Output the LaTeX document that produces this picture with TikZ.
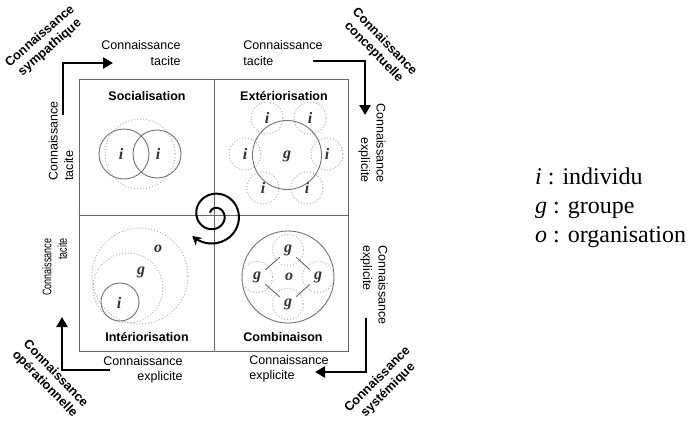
\documentclass[tikz,border=0pt]{standalone}
\usepackage{fontspec}
\setmainfont{Liberation Serif}
\newfontfamily\arial{Liberation Sans}
\usetikzlibrary{arrows.meta}
\tikzset{
  lbl/.style={font=\arial\fontsize{12.5}{15.5}\selectfont, inner sep=0pt},
  ttl/.style={font=\arial\bfseries\fontsize{12.5}{15}\selectfont, inner sep=0pt},
  diag/.style={font=\arial\bfseries\fontsize{12.8}{15}\selectfont, inner sep=0pt, align=center},
  sym/.style={font=\bfseries\itshape\fontsize{16}{16}\selectfont, inner sep=1.5pt, text=black!80},
  solidc/.style={circle, draw=black!55, line width=0.9pt, inner sep=0pt},
  dotc/.style={circle, draw=black!30, dotted, line width=1pt, inner sep=0pt},
  framec/.style={draw=black!60, line width=0.9pt},
  bigarrow/.style={line width=2.6pt, -{Triangle[length=10pt,width=11pt]}},
}
\begin{document}
\begin{tikzpicture}[x=1pt,y=-1pt]
\useasboundingbox (0,0) rectangle (690,420);
% frame
\node[framec, minimum width=269pt, minimum height=272pt, inner sep=0pt] (frame) at (213.5,215) {};
\coordinate (cc) at (214,215);
\draw[framec] (frame.north -| cc) -- (frame.south -| cc);
\draw[framec] (frame.west |- cc) -- (frame.east |- cc);
% titles
\node[ttl] (t1) at (147,96) {Socialisation};
\node[ttl] (t2) at (284,96) {Extériorisation};
\node[ttl] (t3) at (147,337) {Intériorisation};
\node[ttl] (t4) at (283,337) {Combinaison};
% Socialisation
\node[dotc, minimum size=70pt] (sd) at (140,154) {};
\node[solidc, minimum size=50pt] (sc1) at (124,154) {};
\node[solidc, minimum size=48pt] (sc2) at (157,154) {};
\node[sym] (si1) at (121,154) {i};
\node[sym] (si2) at (158,154) {i};
% Exteriorisation
\foreach \n/\x/\y in {e1/267/118, e2/310/118, e3/245/154, e4/327/154, e5/263/188, e6/307/188}{
  \node[dotc, minimum size=32pt] (d\n) at (\x,\y) {};
  \node[sym] (\n) at (\x,\y) {i};
}
\node[solidc, minimum size=69pt] (eg) at (287,155) {};
\node[sym] (egl) at (287,156) {g};
% Combinaison
\node[solidc, minimum size=92pt] (co) at (288,277) {};
\foreach \n/\x/\y in {gt/288/250, gl/257/277, gr/318/277, gb/288/304}{
  \node[dotc, minimum size=31pt] (d\n) at (\x,\y) {};
  \node[sym, inner sep=4pt] (\n) at (\x,\y) {g};
}
\node[sym] (col) at (289,277) {o};
\draw[black!60, line width=0.9pt] (gt) -- (gr) -- (gb) -- (gl) -- (gt);
% Interiorisation
\node[dotc, minimum size=96pt] (io) at (140,276) {};
\node[dotc, minimum size=70pt] (ig) at (128,288) {};
\node[solidc, minimum size=38pt] (ii) at (120,302) {};
\node[sym] (iil) at (119,303) {i};
\node[sym] (igl) at (141,272) {g};
\node[sym] (iol) at (158,249) {o};
% spiral
\draw[line width=2pt, -{Stealth[length=9pt,width=10pt]}]
  plot[domain=212:856, samples=160, smooth, variable=\t]
  ({214+(-4+0.04*\t)*cos(\t)}, {215+(-4+0.04*\t)*sin(\t)});
% big arrows
\coordinate (a1s) at (63,115); \coordinate (a1e) at (113,63);
\draw[bigarrow] (a1s) |- (a1e);
\coordinate (a2s) at (313,61); \coordinate (a2e) at (365,115);
\draw[bigarrow] (a2s) -| (a2e);
\coordinate (a3s) at (366,318); \coordinate (a3e) at (315,372);
\draw[bigarrow] (a3s) |- (a3e);
\coordinate (a4s) at (110,370); \coordinate (a4e) at (62,317);
\draw[bigarrow] (a4s) -| (a4e);
% knowledge labels
\node[lbl, align=right] (k1) at (141,53) {Connaissance\\tacite};
\node[lbl, align=left] (k2) at (283,53) {Connaissance\\tacite};
\node[lbl, align=left] (k3) at (289,369) {Connaissance\\explicite};
\node[lbl, align=right] (k4) at (143,370) {Connaissance\\explicite};
\node[lbl, align=left, rotate=90] (k5) at (61,141) {Connaissance\\tacite};
\node[lbl, rotate=90] (k6) at (56,267) {\scalebox{0.72}[1]{\begin{tabular}{@{}r@{}}Connaissance\\tacite\end{tabular}}};
\node[lbl, align=right, rotate=-90] (k7) at (372,143) {Connaissance\\explicite};
\node[lbl, align=left, rotate=-90] (k8) at (374,285) {Connaissance\\explicite};
% diagonal labels
\node[diag, rotate=41] (d1) at (45,42) {Connaissance\\sympathique};
\node[diag, rotate=-46] (d2) at (379,47) {Connaissance\\conceptuelle};
\node[diag, rotate=45] (d3) at (383,385) {Connaissance\\systémique};
\node[diag, rotate=-46] (d4) at (50,379) {Connaissance\\opérationnelle};
% legend
\node[anchor=west, align=left, inner sep=0pt, font=\fontsize{24}{29}\selectfont] (leg) at (535,208)
  {\textit{i} : individu\\\textit{g} : groupe\\\textit{o} : organisation};
\end{tikzpicture}
\end{document}
